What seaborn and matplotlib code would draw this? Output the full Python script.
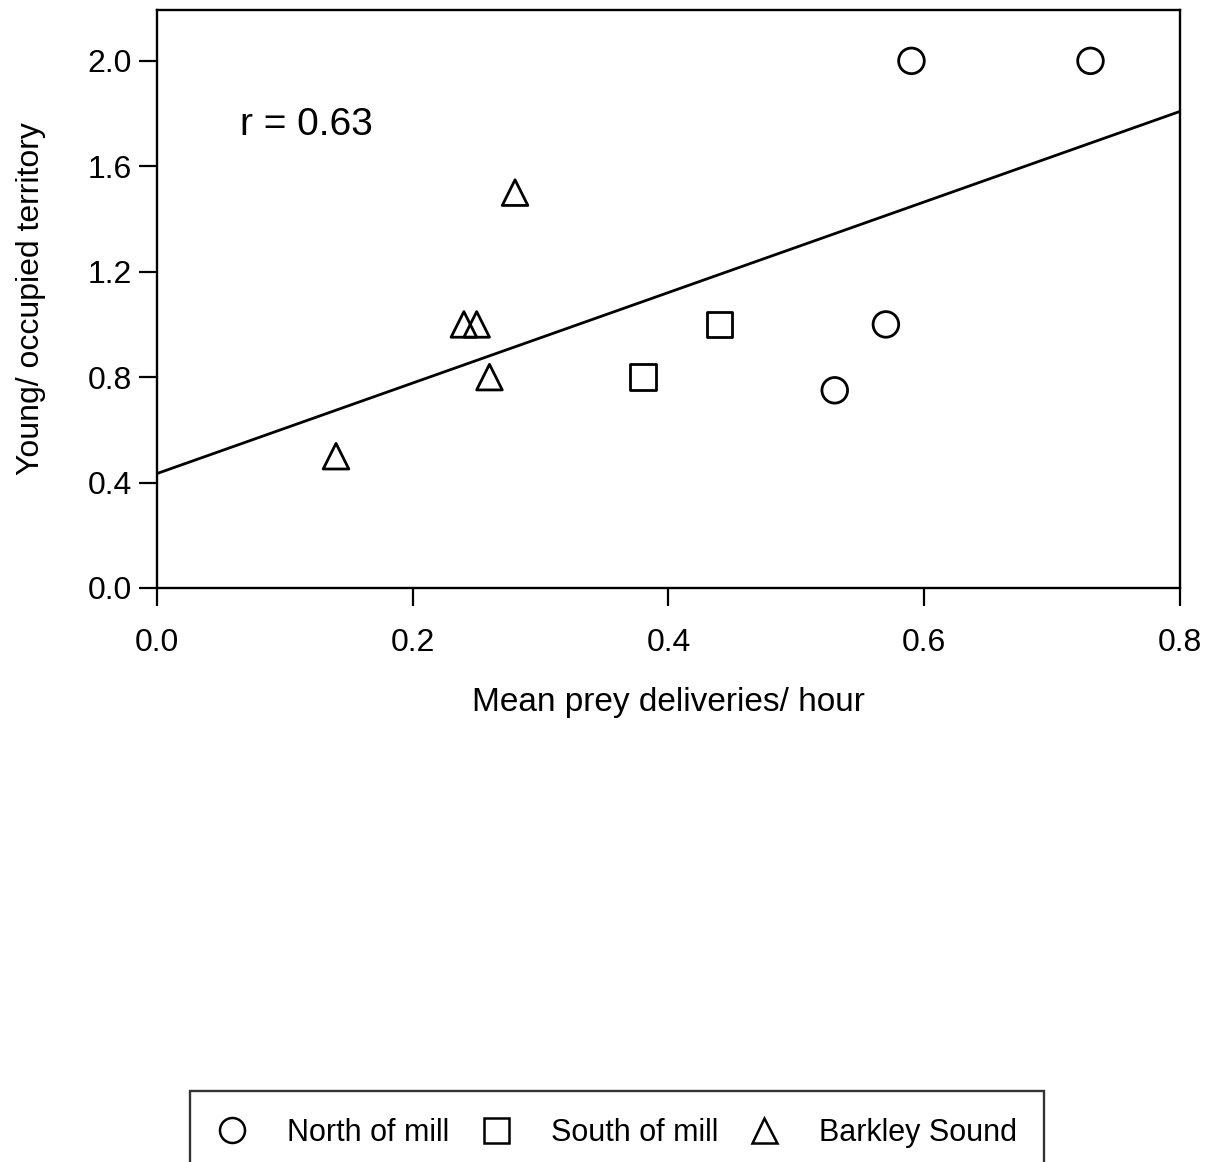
import numpy as np
import pandas as pd
import matplotlib
matplotlib.use("Agg")
import matplotlib.pyplot as plt
from matplotlib.lines import Line2D
import seaborn as sns

# Prey delivery rates and productivity by study area
north_x = [0.59, 0.73, 0.57, 0.53]
north_y = [2.0, 2.0, 1.0, 0.75]
south_x = [0.44, 0.38]
south_y = [1.0, 0.8]
barkley_x = [0.14, 0.24, 0.25, 0.26, 0.28]
barkley_y = [0.5, 1.0, 1.0, 0.8, 1.5]

site_names = ["North of mill", "South of mill", "Barkley Sound"]
site_markers = ["o", "s", "^"]

r_value = 0.63

x_ticks = [0.0, 0.2, 0.4, 0.6, 0.8]
y_ticks = [0.0, 0.4, 0.8, 1.2, 1.6, 2.0]

df = pd.DataFrame({
    "x": north_x + south_x + barkley_x,
    "y": north_y + south_y + barkley_y,
    "site": [site_names[0]] * len(north_x)
    + [site_names[1]] * len(south_x)
    + [site_names[2]] * len(barkley_x),
})

sns.set_theme(style="ticks")
plt.rcParams["font.family"] = ["Liberation Sans", "DejaVu Sans"]
plt.rcParams["text.color"] = "black"
plt.rcParams["axes.labelcolor"] = "black"

fig = plt.figure(figsize=(12.16, 11.62), dpi=100)
ax = fig.add_axes([0.1291, 0.4940, 0.8413, 0.4974])
ax.set_xlim(0, 0.8)
ax.set_ylim(0, 2.193)

# Least-squares line across the full x range
sns.regplot(data=df, x="x", y="y", scatter=False, ci=None, truncate=False,
            color="black", line_kws={"linewidth": 2.0}, ax=ax)

for name, mk in zip(site_names, site_markers):
    sub = df[df["site"] == name]
    sns.scatterplot(data=sub, x="x", y="y", marker=mk, s=340,
                    facecolors="none", edgecolors="black", linewidths=2.0,
                    legend=False, ax=ax, zorder=3)

ax.text(0.065, 1.755, f"r = {r_value:.2f}", fontsize=28, va="center",
        ha="left", color="black")

ax.set_xticks(x_ticks)
ax.set_yticks(y_ticks)
ax.set_xticklabels([f"{v:.1f}" for v in x_ticks])
ax.set_yticklabels([f"{v:.1f}" for v in y_ticks])
ax.tick_params(axis="both", direction="out", length=13, width=1.6,
               labelsize=23, color="black", labelcolor="black")
ax.tick_params(axis="x", pad=16)
ax.tick_params(axis="y", pad=5)

for side in ["top", "right", "left", "bottom"]:
    ax.spines[side].set_visible(True)
    ax.spines[side].set_linewidth(1.7)
    ax.spines[side].set_color("black")

ax.set_xlabel("Mean prey deliveries/ hour", fontsize=24, labelpad=21,
              color="black")
ax.set_ylabel("Young/ occupied territory", fontsize=23, labelpad=30,
              color="black")

handles = [Line2D([], [], linestyle="none", marker=mk, markersize=18,
                  markerfacecolor="none", markeredgecolor="black",
                  markeredgewidth=1.8)
           for mk in site_markers]
leg = fig.legend(handles, site_names, loc="center",
                 bbox_to_anchor=(617 / 1216, 1 - 1133 / 1162),
                 ncol=3, fontsize=22, frameon=True, fancybox=False,
                 edgecolor="black", borderpad=0.9, handletextpad=1.3,
                 columnspacing=1.0, handlelength=1.0)
leg.get_frame().set_linewidth(1.7)
for t in leg.get_texts():
    t.set_color("black")

fig.savefig("out.png", dpi=100, facecolor="white")
